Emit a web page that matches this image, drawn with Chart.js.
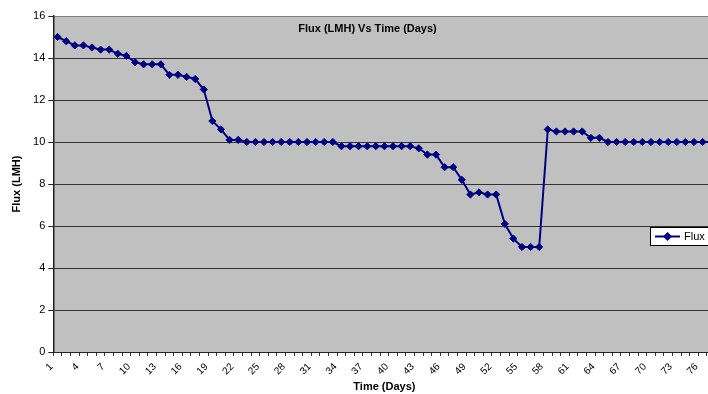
<!DOCTYPE html>
<html>
<head>
<meta charset="utf-8">
<script src="https://cdn.jsdelivr.net/npm/chart.js@4/dist/chart.umd.min.js"></script>
<style>
  html, body { margin: 0; padding: 0; background: #fff; overflow: hidden; }
  canvas { display: block; }
</style>
</head>
<body>
<canvas id="fluxChart" width="735" height="394"></canvas>
<script>
// Time axis (days)
const days = ['1','2','3','4','5','6','7','8','9','10','11','12','13','14','15','16','17','18','19','20',
  '21','22','23','24','25','26','27','28','29','30','31','32','33','34','35','36','37','38','39','40',
  '41','42','43','44','45','46','47','48','49','50','51','52','53','54','55','56','57','58','59','60',
  '61','62','63','64','65','66','67','68','69','70','71','72','73','74','75','76','77'];

// Flux (LMH)
const flux = [15.0, 14.8, 14.6, 14.6, 14.5, 14.4, 14.4, 14.2, 14.1, 13.8,
  13.7, 13.7, 13.7, 13.2, 13.2, 13.1, 13.0, 12.5, 11.0, 10.6,
  10.1, 10.1, 10.0, 10.0, 10.0, 10.0, 10.0, 10.0, 10.0, 10.0,
  10.0, 10.0, 10.0, 9.8, 9.8, 9.8, 9.8, 9.8, 9.8, 9.8,
  9.8, 9.8, 9.7, 9.4, 9.4, 8.8, 8.8, 8.2, 7.5, 7.6,
  7.5, 7.5, 6.1, 5.4, 5.0, 5.0, 5.0, 10.6, 10.5, 10.5,
  10.5, 10.5, 10.2, 10.2, 10.0, 10.0, 10.0, 10.0, 10.0, 10.0,
  10.0, 10.0, 10.0, 10.0, 10.0, 10.0, 10.0];

const yTicks = [0, 2, 4, 6, 8, 10, 12, 14, 16];

const chartTitle = 'Flux (LMH) Vs Time (Days)';
const seriesName = 'Flux';
const navy = '#000080';
const font = "'Liberation Sans', Arial, sans-serif";

// gray plot area, white page
const plotBackground = {
    id: 'plotBackground',
    beforeDraw(chart) {
        const {ctx, chartArea: a} = chart;
        ctx.save();
        ctx.fillStyle = '#fff';
        ctx.fillRect(0, 0, chart.width, chart.height);
        ctx.fillStyle = '#c0c0c0';
        ctx.fillRect(a.left, a.top, a.right - a.left, a.bottom - a.top);
        ctx.restore();
    }
};

// title sits inside the plot area, legend box on the right
const overlay = {
    id: 'overlay',
    afterDraw(chart) {
        const ctx = chart.ctx;
        ctx.save();
        ctx.fillStyle = '#000';
        ctx.font = 'bold 11px ' + font;
        ctx.textAlign = 'center';
        ctx.textBaseline = 'middle';
        ctx.fillText(chartTitle, 367.5, 28.5);

        // legend
        ctx.fillStyle = '#fff';
        ctx.fillRect(650.5, 227.5, 62, 18);
        ctx.strokeStyle = '#000';
        ctx.lineWidth = 1;
        ctx.strokeRect(650.5, 227.5, 62, 18);
        ctx.strokeStyle = navy;
        ctx.lineWidth = 2;
        ctx.beginPath();
        ctx.moveTo(655, 236.5);
        ctx.lineTo(680, 236.5);
        ctx.stroke();
        ctx.fillStyle = navy;
        ctx.beginPath();
        ctx.moveTo(667.5, 232);
        ctx.lineTo(672, 236.5);
        ctx.lineTo(667.5, 241);
        ctx.lineTo(663, 236.5);
        ctx.closePath();
        ctx.fill();
        ctx.fillStyle = '#000';
        ctx.font = '11px ' + font;
        ctx.textAlign = 'left';
        ctx.fillText(chart.data.datasets[0].label, 684, 237);
        ctx.restore();
    }
};

const ctx = document.getElementById('fluxChart').getContext('2d');
new Chart(ctx, {
    type: 'line',
    data: {
        labels: days,
        datasets: [{
            label: seriesName,
            data: flux,
            borderColor: navy,
            backgroundColor: navy,
            borderWidth: 2,
            pointStyle: 'rectRot',
            pointRadius: 3.6,
            pointBorderWidth: 1,
            pointBackgroundColor: navy,
            pointBorderColor: navy,
            tension: 0
        }]
    },
    options: {
        responsive: false,
        animation: false,
        layout: { padding: { top: 16, right: 19.5, left: 0, bottom: 0 } },
        plugins: {
            legend: { display: false },
            title: { display: false },
            tooltip: { enabled: false }
        },
        scales: {
            x: {
                type: 'category',
                offset: true,
                afterFit: (scale) => { scale.height = 42; },
                grid: {
                    offset: true,
                    drawOnChartArea: false,
                    drawTicks: true,
                    tickLength: 4,
                    color: '#333'
                },
                border: { display: true, color: '#222', width: 1 },
                ticks: {
                    autoSkip: false,
                    maxRotation: 45,
                    minRotation: 45,
                    padding: 5,
                    labelOffset: -6,
                    color: '#000',
                    font: { family: font, size: 10 },
                    callback: function (value, index) {
                        return index % 3 === 0 ? this.getLabelForValue(value) : '';
                    }
                },
                title: {
                    display: true,
                    text: 'Time (Days)',
                    color: '#000',
                    font: { family: font, size: 11, weight: 'bold' },
                    padding: { top: 0, bottom: 0 }
                }
            },
            y: {
                min: 0,
                max: 16,
                afterFit: (scale) => { scale.width = 53.3; },
                afterBuildTicks: (scale) => { scale.ticks = yTicks.map(v => ({ value: v })); },
                grid: {
                    color: (c) => (c.tick && c.tick.value === 16 ? '#808080' : '#333'),
                    tickColor: '#222',
                    tickLength: 5,
                    lineWidth: 1
                },
                border: { display: true, color: '#222', width: 1.5 },
                ticks: {
                    padding: 3,
                    color: '#000',
                    font: { family: font, size: 11 }
                },
                title: {
                    display: true,
                    text: 'Flux (LMH)',
                    color: '#000',
                    font: { family: font, size: 11, weight: 'bold' },
                    padding: { top: 10, bottom: 0 }
                }
            }
        }
    },
    plugins: [plotBackground, overlay]
});
</script>
</body>
</html>
